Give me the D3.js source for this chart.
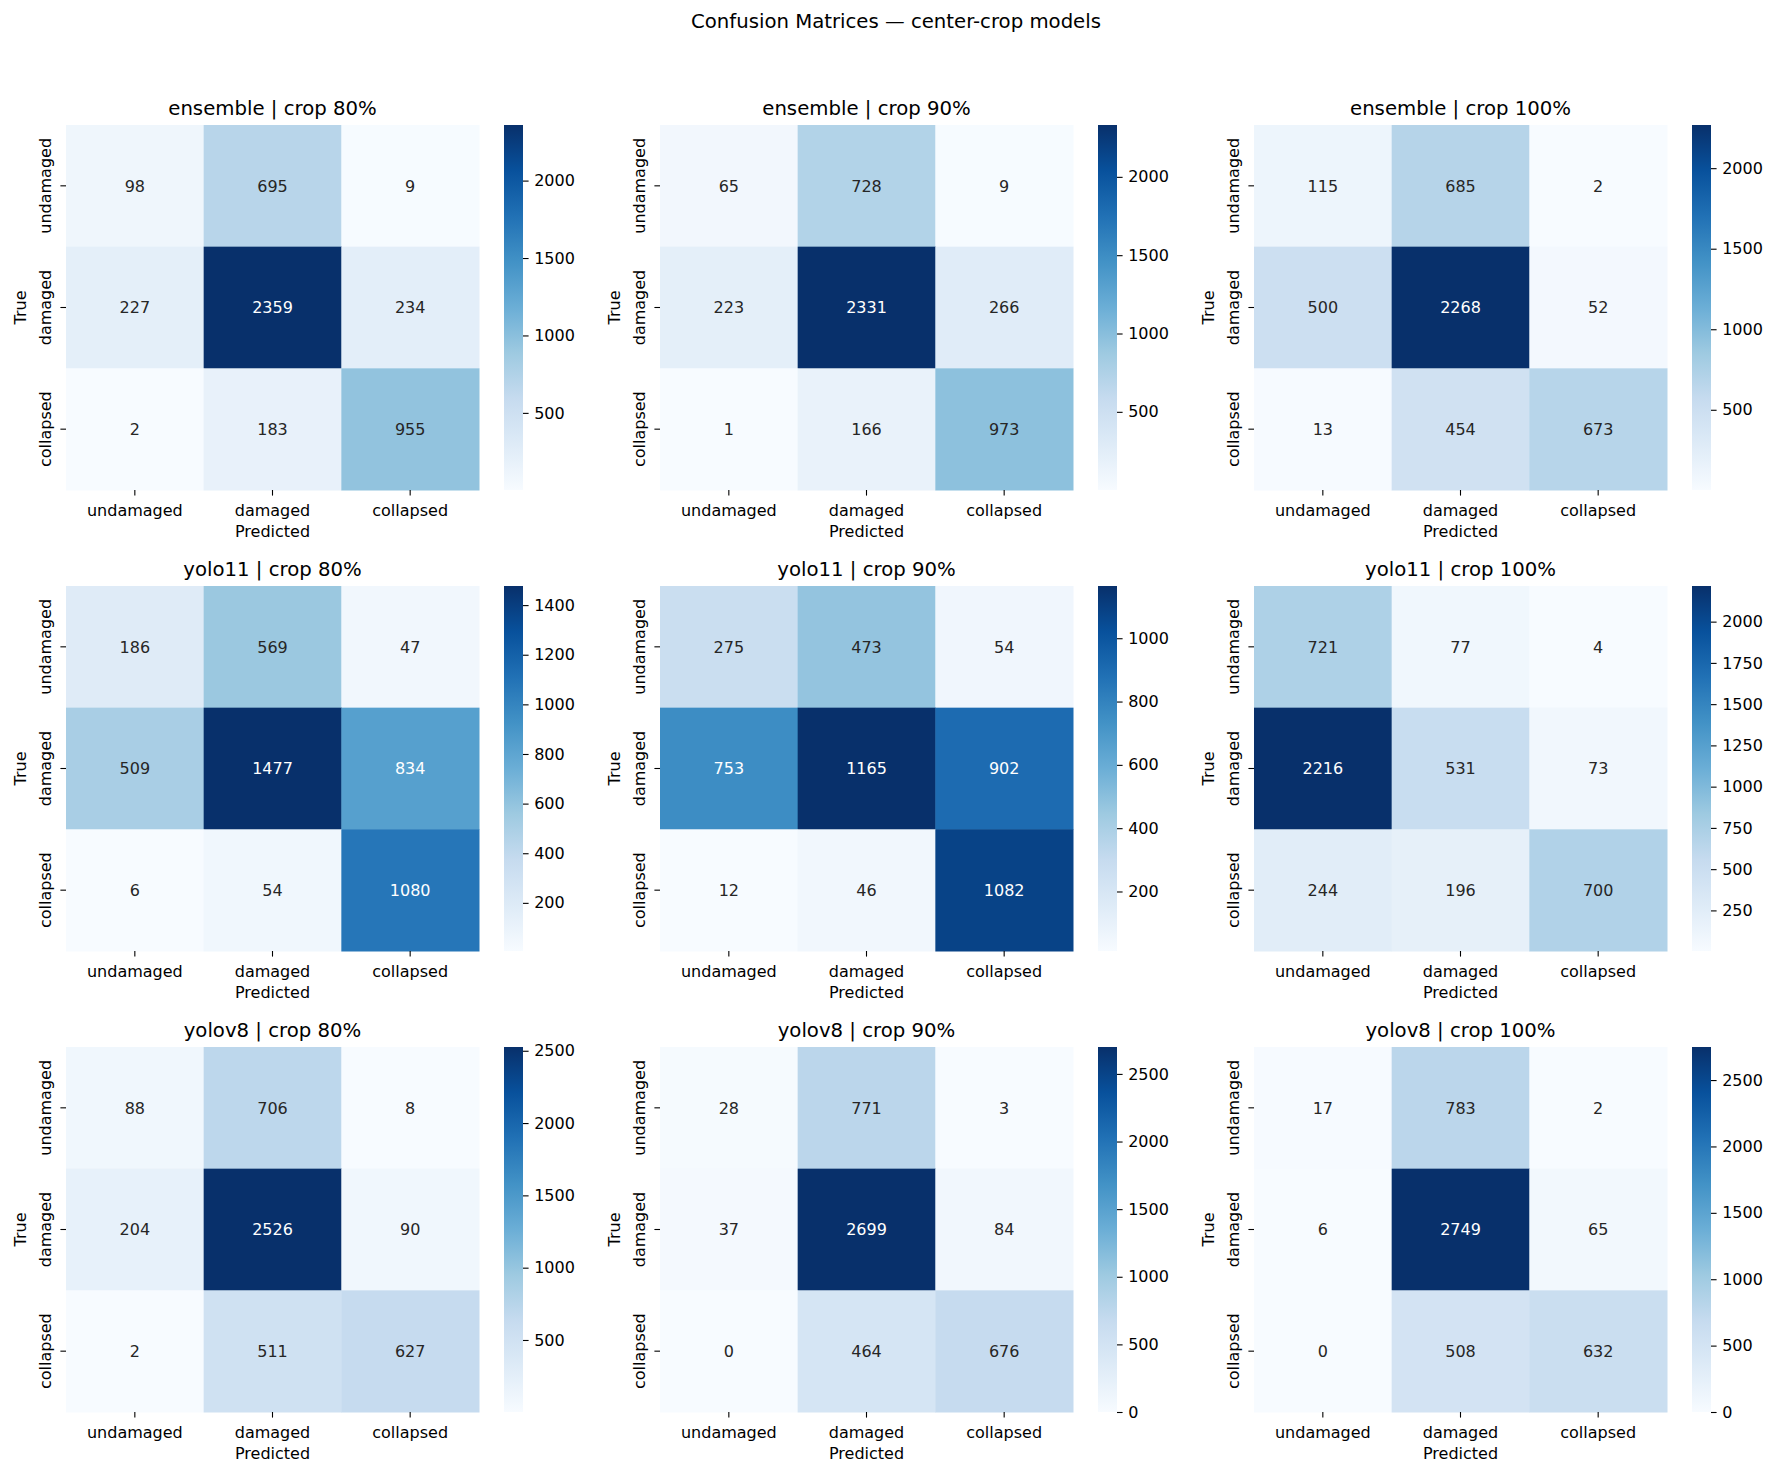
<!DOCTYPE html>
<html>
<head>
<meta charset="utf-8">
<script src="https://cdn.jsdelivr.net/npm/d3@7"></script>
<style>
  body { margin: 0; background: #fff; }
  svg { display: block; }
  svg text { font-family: "DejaVu Sans", sans-serif; }
</style>
</head>
<body>
<svg id="chart" width="1776" height="1477"></svg>
<script>
// class labels (rows = true, cols = predicted)
const classes = ["undamaged", "damaged", "collapsed"];
const models = ["ensemble", "yolo11", "yolov8"];
const crops = ["80%", "90%", "100%"];

// confusion matrices
const ensemble80 = [[98, 695, 9], [227, 2359, 234], [2, 183, 955]];
const ensemble90 = [[65, 728, 9], [223, 2331, 266], [1, 166, 973]];
const ensemble100 = [[115, 685, 2], [500, 2268, 52], [13, 454, 673]];
const yolo11_80 = [[186, 569, 47], [509, 1477, 834], [6, 54, 1080]];
const yolo11_90 = [[275, 473, 54], [753, 1165, 902], [12, 46, 1082]];
const yolo11_100 = [[721, 77, 4], [2216, 531, 73], [244, 196, 700]];
const yolov8_80 = [[88, 706, 8], [204, 2526, 90], [2, 511, 627]];
const yolov8_90 = [[28, 771, 3], [37, 2699, 84], [0, 464, 676]];
const yolov8_100 = [[17, 783, 2], [6, 2749, 65], [0, 508, 632]];

// colorbar tick labels per panel
const ticksEnsemble = [500, 1000, 1500, 2000];
const ticksYolo11_80 = [200, 400, 600, 800, 1000, 1200, 1400];
const ticksYolo11_90 = [200, 400, 600, 800, 1000];
const ticksYolo11_100 = [250, 500, 750, 1000, 1250, 1500, 1750, 2000];
const ticksYolov8_80 = [500, 1000, 1500, 2000, 2500];
const ticksYolov8_0 = [0, 500, 1000, 1500, 2000, 2500];

const matrices = [
  [ensemble80, ensemble90, ensemble100],
  [yolo11_80, yolo11_90, yolo11_100],
  [yolov8_80, yolov8_90, yolov8_100]
];
const cbTicks = [
  [ticksEnsemble, ticksEnsemble, ticksEnsemble],
  [ticksYolo11_80, ticksYolo11_90, ticksYolo11_100],
  [ticksYolov8_80, ticksYolov8_0, ticksYolov8_0]
];

// matplotlib "Blues" segment colors
const bluesStops = ["#f7fbff", "#deebf7", "#c6dbef", "#9ecae1", "#6baed6",
                    "#4292c6", "#2171b5", "#08519c", "#08306b"];
const blues = d3.scaleLinear()
  .domain(d3.range(bluesStops.length).map(i => i / (bluesStops.length - 1)))
  .range(bluesStops)
  .interpolate(d3.interpolateRgb);

// layout (px)
const lefts = [66, 660, 1254];
const tops = [125, 586, 1047];
const W = 413, H = 365;
const cbGap = 25, cbW = 19;
const tickLen = 5.6, tickPad = 5.6;
const fs = 16, titleFs = 19.7;
const FONT = "DejaVu Sans";

const svg = d3.select("#chart");

svg.append("text")
  .attr("x", 896).attr("y", 27.5)
  .attr("text-anchor", "middle")
  .style("font-size", titleFs + "px")
  .text("Confusion Matrices \u2014 center-crop models");

// seaborn picks dark or white annotation text by luminance
function textColor(c) {
  const rgb = d3.rgb(c);
  const lin = v => { v /= 255; return v <= 0.03928 ? v / 12.92 : Math.pow((v + 0.055) / 1.055, 2.4); };
  const lum = 0.2126 * lin(rgb.r) + 0.7152 * lin(rgb.g) + 0.0722 * lin(rgb.b);
  return lum > 0.408 ? "#262626" : "#ffffff";
}

// colorbar gradient (bottom = vmin)
const defs = svg.append("defs");
const grad = defs.append("linearGradient")
  .attr("id", "bluesGrad")
  .attr("x1", 0).attr("y1", 1).attr("x2", 0).attr("y2", 0);
bluesStops.forEach((c, i) => {
  grad.append("stop").attr("offset", i / (bluesStops.length - 1)).attr("stop-color", c);
});

models.forEach((model, r) => {
  crops.forEach((crop, c) => {
    const m = matrices[r][c];
    const x0 = lefts[c], y0 = tops[r];
    const flat = m.flat();
    const vmin = d3.min(flat), vmax = d3.max(flat);
    const norm = d3.scaleLinear().domain([vmin, vmax]).range([0, 1]);

    const x = d3.scaleBand().domain(classes).range([x0, x0 + W]);
    const y = d3.scaleBand().domain(classes).range([y0, y0 + H]);

    const g = svg.append("g");

    // cells
    const cells = [];
    m.forEach((row, i) => row.forEach((v, j) => cells.push({ t: classes[i], p: classes[j], v: v })));

    g.selectAll("rect.cell")
      .data(cells)
      .enter().append("rect")
        .attr("class", "cell")
        .attr("x", d => x(d.p))
        .attr("y", d => y(d.t))
        .attr("width", x.bandwidth() + 0.5)
        .attr("height", y.bandwidth() + 0.5)
        .attr("fill", d => blues(norm(d.v)));

    g.selectAll("text.annot")
      .data(cells)
      .enter().append("text")
        .attr("class", "annot")
        .attr("x", d => x(d.p) + x.bandwidth() / 2)
        .attr("y", d => y(d.t) + y.bandwidth() / 2)
        .attr("dy", "0.36em")
        .attr("text-anchor", "middle")
        .style("font-size", fs + "px")
        .attr("fill", d => textColor(blues(norm(d.v))))
        .text(d => d.v);

    // x axis
    const xAx = g.append("g")
      .attr("transform", "translate(0," + (y0 + H) + ")")
      .call(d3.axisBottom(x).tickSize(tickLen).tickPadding(tickPad))
      .attr("font-family", FONT);
    xAx.select(".domain").remove();
    xAx.selectAll("line").attr("stroke", "#000").attr("stroke-width", 1.1);
    xAx.selectAll("text").style("font-size", fs + "px").attr("fill", "#000")
      .attr("y", tickLen + tickPad).attr("dy", "0.9em");

    // y axis, labels rotated
    const yAx = g.append("g")
      .attr("transform", "translate(" + x0 + ",0)")
      .call(d3.axisLeft(y).tickSize(tickLen).tickPadding(tickPad))
      .attr("font-family", FONT);
    yAx.select(".domain").remove();
    yAx.selectAll("line").attr("stroke", "#000").attr("stroke-width", 1.1);
    yAx.selectAll("text")
      .style("font-size", fs + "px").attr("fill", "#000")
      .attr("text-anchor", "middle")
      .attr("x", 0).attr("y", -(tickLen + tickPad + 3.8)).attr("dy", 0)
      .attr("transform", "rotate(-90)");

    // axis labels and title
    g.append("text")
      .attr("x", x0 + W / 2).attr("y", y0 + H + 47)
      .attr("text-anchor", "middle")
      .style("font-size", fs + "px")
      .text("Predicted");

    g.append("text")
      .attr("transform", "translate(" + (x0 - 40) + "," + (y0 + H / 2) + ") rotate(-90)")
      .attr("text-anchor", "middle")
      .style("font-size", fs + "px")
      .text("True");

    g.append("text")
      .attr("x", x0 + W / 2).attr("y", y0 - 9.6)
      .attr("text-anchor", "middle")
      .style("font-size", titleFs + "px")
      .text(model + " | crop " + crop);

    // colorbar
    const cbx = x0 + W + cbGap;
    g.append("rect")
      .attr("x", cbx).attr("y", y0)
      .attr("width", cbW).attr("height", H)
      .attr("fill", "url(#bluesGrad)");

    const cbScale = d3.scaleLinear().domain([vmin, vmax]).range([y0 + H, y0]);
    const cbAx = g.append("g")
      .attr("transform", "translate(" + (cbx + cbW) + ",0)")
      .call(d3.axisRight(cbScale).tickValues(cbTicks[r][c]).tickFormat(d3.format("d"))
        .tickSize(tickLen).tickPadding(tickPad))
      .attr("font-family", FONT);
    cbAx.select(".domain").remove();
    cbAx.selectAll("line").attr("stroke", "#000").attr("stroke-width", 1.1);
    cbAx.selectAll("text").style("font-size", fs + "px").attr("fill", "#000");
  });
});
</script>
</body>
</html>
